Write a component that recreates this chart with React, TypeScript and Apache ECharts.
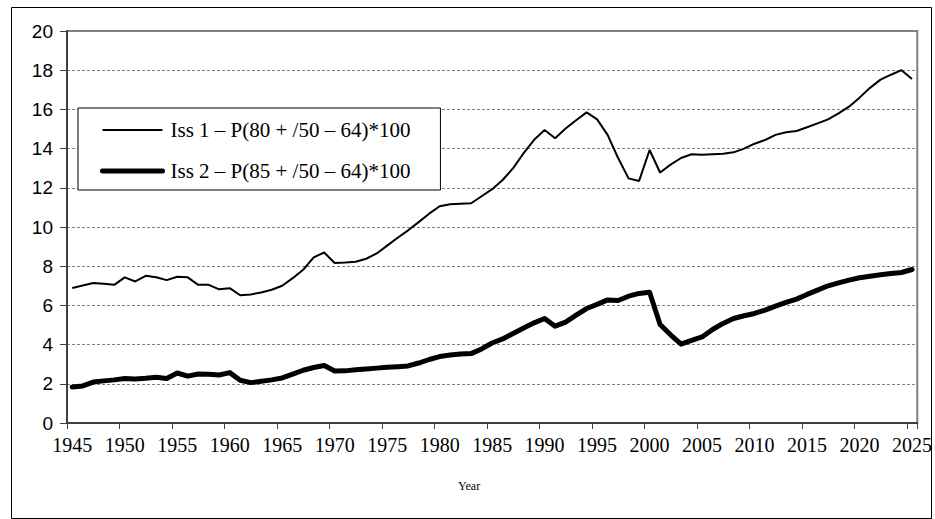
import React, { useEffect, useRef } from "react";
import * as echarts from "echarts";

const years: string[] = [];
for (let y = 1945; y <= 2025; y++) years.push(String(y));

const iss1Name = "Iss 1 – P(80 + /50 – 64)*100";
const iss2Name = "Iss 2 – P(85 + /50 – 64)*100";

const iss1 = [
  6.89, 7.02, 7.14, 7.1, 7.05, 7.43, 7.22, 7.51, 7.44, 7.29,
  7.46, 7.43, 7.05, 7.05, 6.82, 6.88, 6.52, 6.56, 6.66, 6.8,
  7.0, 7.39, 7.82, 8.45, 8.7, 8.16, 8.19, 8.23, 8.38, 8.65,
  9.05, 9.45, 9.83, 10.25, 10.68, 11.06, 11.16, 11.19, 11.21, 11.57,
  11.93, 12.4, 13.0, 13.77, 14.45, 14.95, 14.53, 15.03, 15.45, 15.85,
  15.49, 14.7, 13.52, 12.48, 12.35, 13.93, 12.78, 13.18, 13.52, 13.71,
  13.68, 13.71, 13.74, 13.81, 14.0, 14.25, 14.44, 14.7, 14.83, 14.9,
  15.09, 15.29, 15.49, 15.8, 16.14, 16.6, 17.1, 17.52, 17.77, 18.0,
  17.55,
];

const iss2 = [
  1.84, 1.89, 2.09, 2.15, 2.2, 2.27, 2.25, 2.28, 2.33, 2.27,
  2.55, 2.39, 2.5, 2.49, 2.45, 2.57, 2.18, 2.06, 2.13, 2.2,
  2.3, 2.49, 2.69, 2.83, 2.93, 2.65, 2.66, 2.72, 2.76, 2.8,
  2.84, 2.87, 2.91, 3.06, 3.24, 3.39, 3.47, 3.52, 3.54, 3.78,
  4.08, 4.29, 4.57, 4.85, 5.11, 5.33, 4.94, 5.15, 5.5, 5.84,
  6.05, 6.28, 6.25, 6.47, 6.61, 6.67, 5.03, 4.5, 4.02, 4.22,
  4.39, 4.77, 5.08, 5.33, 5.47, 5.59, 5.76, 5.96, 6.15, 6.32,
  6.56, 6.78, 7.0, 7.15, 7.29, 7.41, 7.49, 7.56, 7.63, 7.68,
  7.83,
];

const xAxisTitle = "Year";

export default function App() {
  const ref = useRef<HTMLDivElement>(null);
  useEffect(() => {
    if (!ref.current) return;
    const chart = echarts.init(ref.current, null, { renderer: "svg" });
    const serif = "'Liberation Serif', 'Times New Roman', serif";
    const sans = "'Liberation Sans', Arial, sans-serif";
    chart.setOption({
      animation: false,
      backgroundColor: "#ffffff",
      grid: {
        left: 67,
        top: 31,
        right: 16,
        bottom: 96,
        show: true,
        borderColor: "#808080",
        borderWidth: 2,
        backgroundColor: "transparent",
      },
      legend: {
        left: 78,
        top: 108,
        orient: "vertical",
        padding: [11, 30, 8, 22],
        itemGap: 19,
        itemWidth: 60,
        itemHeight: 14,
        borderColor: "#000",
        borderWidth: 1,
        backgroundColor: "#fff",
        itemStyle: { opacity: 0 },
        textStyle: {
          fontFamily: serif,
          fontSize: 21,
          lineHeight: 22,
          color: "#000",
          padding: [0, 0, 0, 3],
        },
        data: [
          { name: iss1Name, lineStyle: { width: 2, color: "#000" } },
          { name: iss2Name, lineStyle: { width: 5, color: "#000", cap: "round" } },
        ],
      },
      xAxis: {
        type: "category",
        data: years,
        boundaryGap: true,
        name: xAxisTitle,
        nameLocation: "middle",
        nameGap: 57,
        nameTextStyle: {
          fontFamily: serif,
          fontSize: 12,
          color: "#000",
          padding: [0, 46, 0, 0],
        },
        axisLine: { show: true, lineStyle: { color: "#404040", width: 2 } },
        axisTick: {
          show: true,
          interval: 4,
          length: 6,
          alignWithLabel: false,
          lineStyle: { color: "#404040", width: 1 },
        },
        axisLabel: {
          interval: 4,
          fontFamily: serif,
          fontSize: 20,
          color: "#000",
          margin: 12,
        },
        splitLine: { show: false },
      },
      yAxis: {
        type: "value",
        min: 0,
        max: 20,
        interval: 2,
        axisLine: { show: true, lineStyle: { color: "#404040", width: 2 } },
        axisTick: { show: true, length: 7, lineStyle: { color: "#404040", width: 1 } },
        axisLabel: { fontFamily: sans, fontSize: 19, color: "#000", margin: 14 },
        splitLine: {
          show: true,
          lineStyle: { color: "#808080", width: 1, type: [3, 2] },
        },
      },
      series: [
        {
          name: iss1Name,
          type: "line",
          data: iss1,
          symbol: "none",
          showSymbol: false,
          lineStyle: { color: "#000", width: 2 },
          itemStyle: { color: "#000" },
        },
        {
          name: iss2Name,
          type: "line",
          data: iss2,
          symbol: "none",
          showSymbol: false,
          lineStyle: { color: "#000", width: 5, cap: "round", join: "round" },
          itemStyle: { color: "#000" },
        },
      ],
      graphic: [
        {
          type: "rect",
          left: 9,
          top: 5,
          shape: { x: 0, y: 0, width: 920, height: 511 },
          style: { fill: "none", stroke: "#000", lineWidth: 1 },
          silent: true,
          z: 100,
        },
      ],
    });
    return () => chart.dispose();
  }, []);
  return (
    <div
      ref={ref}
      style={{ position: "absolute", left: 0, top: 0, width: 935, height: 519 }}
    />
  );
}
